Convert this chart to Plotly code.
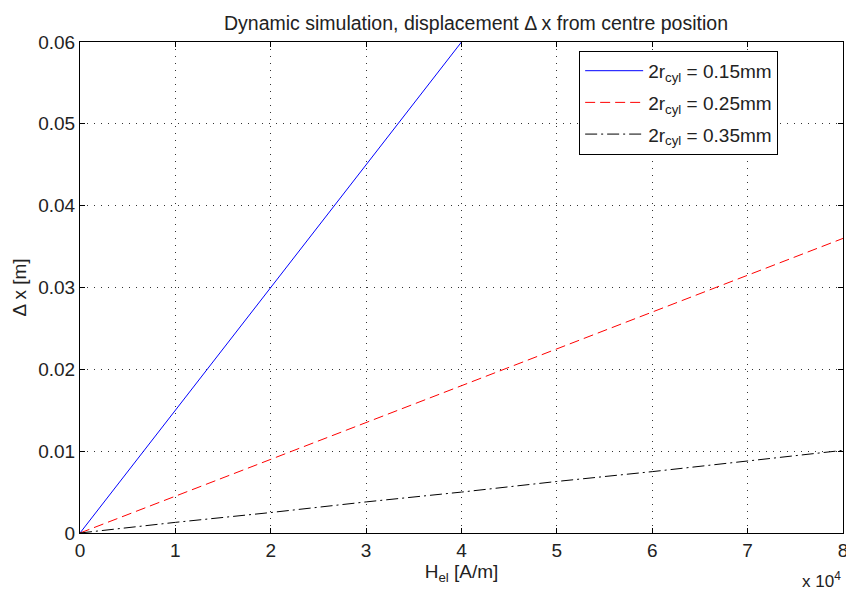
import plotly.graph_objects as go

# Data (H_el in A/m, displacement in m)
h_blue = [0, 10000, 20000, 30000, 40000]
dx_015 = [0, 0.015, 0.030, 0.045, 0.060]
h_all = [0, 10000, 20000, 30000, 40000, 50000, 60000, 70000, 80000]
dx_025 = [0, 0.0045, 0.0090, 0.0135, 0.0180, 0.0225, 0.0270, 0.0315, 0.0360]
dx_035 = [0, 0.0013, 0.0025, 0.0038, 0.0050, 0.0063, 0.0075, 0.0088, 0.0101]

x_tickvals = [0, 10000, 20000, 30000, 40000, 50000, 60000, 70000, 80000]
x_ticktext = ["0", "1", "2", "3", "4", "5", "6", "7", "8"]
y_tickvals = [0, 0.01, 0.02, 0.03, 0.04, 0.05, 0.06]
y_ticktext = ["0", "0.01", "0.02", "0.03", "0.04", "0.05", "0.06"]

NARROW = "Liberation Sans Narrow, Liberation Sans, Arial, sans-serif"
TXT = "#222222"

fig = go.Figure()
fig.add_trace(go.Scatter(x=h_blue, y=dx_015, mode="lines",
                         line=dict(color="#0000ff", width=1),
                         legendgroup="a", name="2r<sub>cyl</sub> = 0.15mm"))
fig.add_trace(go.Scatter(x=h_all, y=dx_025, mode="lines",
                         line=dict(color="#ff0000", width=1, dash="10px,5px"),
                         legendgroup="b", name="2r<sub>cyl</sub> = 0.25mm"))
fig.add_trace(go.Scatter(x=h_all, y=dx_035, mode="lines",
                         line=dict(color="#000000", width=1, dash="12px,4px,2px,4px"),
                         legendgroup="c", name="2r<sub>cyl</sub> = 0.35mm"))

axis_common = dict(showline=True, linecolor="black", linewidth=1, mirror="allticks",
                   ticks="inside", ticklen=5, tickcolor="black",
                   showgrid=True, gridcolor="#333333", griddash="1px,6px", gridwidth=1,
                   zeroline=False, automargin=False,
                   tickfont=dict(family=NARROW, size=19, color=TXT))

fig.update_xaxes(range=[0, 80000], tickvals=x_tickvals, ticktext=x_ticktext,
                 ticklabeloverflow="allow",
                 title=dict(text="H<sub>el</sub> [A/m]", font=dict(family=NARROW, size=19, color=TXT), standoff=4),
                 **axis_common)
fig.update_yaxes(range=[0, 0.06], tickvals=y_tickvals, ticktext=y_ticktext,
                 title=dict(text="Δ x [m]", font=dict(family=NARROW, size=19, color=TXT), standoff=6),
                 **axis_common)

fig.add_annotation(text="x 10<sup>4</sup>", xref="paper", yref="paper", x=1.0, y=-0.07,
                   xanchor="right", yanchor="top", showarrow=False,
                   font=dict(family=NARROW, size=17, color=TXT))

fig.update_layout(
    width=846, height=590,
    margin=dict(l=80, r=3, t=42, b=57),
    paper_bgcolor="white", plot_bgcolor="white",
    title=dict(text="Dynamic simulation, displacement Δ x from centre position",
               x=0.519, xref="paper", xanchor="center", y=1, yref="paper", yanchor="bottom", pad=dict(b=12),
               font=dict(family=NARROW, size=19.5, color=TXT)),
    legend=dict(x=0.915, y=0.982, xanchor="right", yanchor="top",
                bordercolor="black", borderwidth=1, bgcolor="white",
                font=dict(family=NARROW, size=19, color=TXT),
                itemwidth=58, tracegroupgap=4, traceorder="grouped"),
    showlegend=True,
)

fig.write_html("out.html")
